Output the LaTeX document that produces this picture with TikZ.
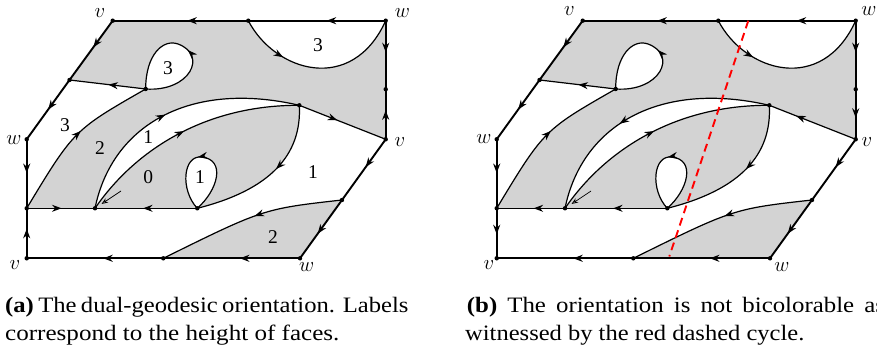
\documentclass[tikz,border=0pt]{standalone}
\usepackage{fontspec}
\setmainfont{Liberation Serif}
\usetikzlibrary{arrows.meta,decorations.markings}
\definecolor{facegray}{RGB}{211,211,211}
\tikzset{
  bd/.style={line width=1.9pt, line cap=round},
  ie/.style={line width=1.2pt},
  midarrow/.style={postaction={decorate},decoration={markings,mark=at position #1 with {\arrow{Stealth[length=9.5pt,width=7pt]}}}},
  midarrow/.default=0.5,
  lab/.style={font=\fontsize{19.5}{19.5}\selectfont, inner sep=0pt},
  vlab/.style={font=\fontsize{21}{21}\selectfont, inner sep=0pt},
  captext/.style={font=\fontsize{22}{26}\selectfont, inner sep=0pt, anchor=base west},
}
\newcommand\basegraph[1]{%
  \coordinate (#1A1) at (112.7,20.7);
  \coordinate (#1A2) at (248.3,20.7);
  \coordinate (#1A3) at (385.7,20.7);
  \coordinate (#1A4) at (385.7,89.3);
  \coordinate (#1A5) at (385.7,139.3);
  \coordinate (#1A6) at (342,200);
  \coordinate (#1A7) at (300,258.3);
  \coordinate (#1A8) at (163.3,258.3);
  \coordinate (#1A9) at (26.7,258.3);
  \coordinate (#1A10) at (26.7,208.3);
  \coordinate (#1A11) at (26.7,139.3);
  \coordinate (#1A12) at (69.5,80);
  \coordinate (#1L) at (145.7,89);
  \coordinate (#1N) at (299.3,105.3);
  \coordinate (#1P) at (95,208.3);
  \coordinate (#1Q) at (197.3,208.3);
  \coordinate (#1H1) at (121,191);
  \coordinate (#1H2) at (101.5,204);
  % fills
  \fill[facegray] (#1A1) -- (#1A2) .. controls (275,72) and (352,95) .. (#1A3) -- (#1A5) -- (#1N)
     .. controls (190,80) and (112,125) .. (#1P) -- (#1A10) .. controls (74,130) .. (#1L) -- (#1A12) -- cycle;
  \fill[white] (#1L) .. controls (190,92) and (208,55) .. (178,44) .. controls (163,38.5) and (145.5,55) .. (#1L);
  \fill[facegray] (#1P) .. controls (135,150) and (205,105) .. (#1N) .. controls (302,155) and (270,190) .. (#1Q) -- cycle;
  \fill[white] (#1Q) .. controls (218,190) and (226,160) .. (202,157) .. controls (182.8,154.6) and (180,190) .. (#1Q);
  \fill[facegray] (#1A6) .. controls (263.5,208.8) .. (#1A8) -- (#1A7) -- cycle;
  % common boundary edges
  \draw[bd,midarrow=0.43] (#1A3) -- (#1A2);
  \draw[bd,midarrow=0.45] (#1A2) -- (#1A1);
  \draw[bd,midarrow=0.46] (#1A3) -- (#1A4);
  \draw[bd,midarrow=0.45] (#1A1) -- (#1A12);
  \draw[bd,midarrow=0.5] (#1A12) -- (#1A11);
  \draw[bd,midarrow=0.49] (#1A11) -- (#1A10);
  \draw[bd,midarrow=0.44] (#1A7) -- (#1A8);
  \draw[bd,midarrow=0.44] (#1A8) -- (#1A9);
  \draw[bd,midarrow=0.46] (#1A5) -- (#1A6);
  \draw[bd,midarrow=0.58] (#1A6) -- (#1A7);
  % common internal edges
  \draw[ie,midarrow=0.53] (#1Q) -- (#1P);
  \draw[ie,midarrow=0.55] (#1A10) .. controls (74,130) .. (#1L);
  \draw[ie,midarrow=0.49] (#1L) -- (#1A12);
  \draw[ie,midarrow=0.49] (#1L) .. controls (190,92) and (208,55) .. (178,44) .. controls (163,38.5) and (145.5,55) .. (#1L);
  \draw[ie,midarrow=0.29] (#1A2) .. controls (275,72) and (352,95) .. (#1A3);
  \draw[ie,midarrow=0.5] (#1P) .. controls (135,150) and (205,105) .. (#1N);
  \draw[ie,midarrow=0.44] (#1N) .. controls (302,155) and (270,190) .. (#1Q);
  \draw[ie,midarrow=0.54] (#1Q) .. controls (218,190) and (226,160) .. (202,157) .. controls (182.8,154.6) and (180,190) .. (#1Q);
  \draw[ie,midarrow=0.47] (#1A6) .. controls (263.5,208.8) .. (#1A8);
  \draw[line width=0.7pt,-{Stealth[open,length=6.5pt,width=5pt]}] (#1H1) -- (#1H2);
}
\newcommand\putdots[1]{%
  \foreach \k in {A1,A2,A3,A4,A5,A6,A7,A8,A9,A10,A11,A12,L,N,P,Q}{\fill (#1\k) circle (2.2pt);}
}
\begin{document}
\begin{tikzpicture}[x=1pt,y=-1pt]
\useasboundingbox (0,0) rectangle (877,355);
% ---------- panel (a)
\begin{scope}
  \basegraph{a}
  \draw[bd,midarrow=0.58] (aA5) -- (aA4);
  \draw[bd,midarrow=0.59] (aA9) -- (aA10);
  \draw[ie,midarrow=0.51] (aA10) -- (aP);
  \draw[ie,midarrow=0.44] (aN) -- (aA5);
  \draw[ie,midarrow=0.47] (aP) .. controls (112,125) and (190,80) .. (aN);
  \putdots{a}
  \node[lab] (a-l1) at (65,125) {3};
  \node[lab] (a-l2) at (100,148) {2};
  \node[lab] (a-l3) at (148.3,136.7) {1};
  \node[lab] (a-l4) at (148.3,176.7) {0};
  \node[lab] (a-l5) at (168,68) {3};
  \node[lab] (a-l6) at (318,45) {3};
  \node[lab] (a-l7) at (200,177) {1};
  \node[lab] (a-l8) at (313,172) {1};
  \node[lab] (a-l9) at (273,237) {2};
  \node[vlab] (a-v1) at (100,12.7) {$v$};
  \node[vlab] (a-w1) at (402.3,13.3) {$w$};
  \node[vlab] (a-w2) at (14,140) {$w$};
  \node[vlab] (a-v2) at (400,141.7) {$v$};
  \node[vlab] (a-v3) at (15,265) {$v$};
  \node[vlab] (a-w3) at (306.7,267) {$w$};
\end{scope}
% ---------- panel (b)
\begin{scope}[xshift=470pt]
  \basegraph{b}
  \draw[bd,midarrow=0.57] (bA4) -- (bA5);
  \draw[bd,midarrow=0.52] (bA10) -- (bA9);
  \draw[ie,midarrow=0.46] (bP) -- (bA10);
  \draw[ie,midarrow=0.69] (bA5) -- (bN);
  \draw[ie,midarrow=0.6] (bN) .. controls (190,80) and (112,125) .. (bP);
  \coordinate (bR1) at (278.3,20.7);
  \coordinate (bR2) at (199.3,256.5);
  \draw[red, line width=1.9pt, dash pattern=on 8pt off 5pt] (bR1) -- (bR2);
  \putdots{b}
  \node[vlab] (b-v1) at (99.3,11) {$v$};
  \node[vlab] (b-w1) at (399,11) {$w$};
  \node[vlab] (b-w2) at (14,139) {$w$};
  \node[vlab] (b-v2) at (397,141.7) {$v$};
  \node[vlab] (b-v3) at (19,265) {$v$};
  \node[vlab] (b-w3) at (312,267) {$w$};
\end{scope}
% ---------- captions
\node[captext] (capa1) at (5,312.5) {\scalebox{1.12}[1]{\makebox[360pt][s]{\textbf{(a)} The dual-geodesic orientation. Labels}}};
\node[captext] (capa2) at (5,340) {\scalebox{1.14}[1]{correspond to the height of faces.}};
\node[captext] (capb1) at (466.7,312.5) {\scalebox{1.13}[1]{\makebox[370pt][s]{\textbf{(b)} The orientation is not bicolorable as}}};
\node[captext] (capb2) at (465,340) {\scalebox{1.115}[1]{witnessed by the red dashed cycle.}};
\end{tikzpicture}
\end{document}
